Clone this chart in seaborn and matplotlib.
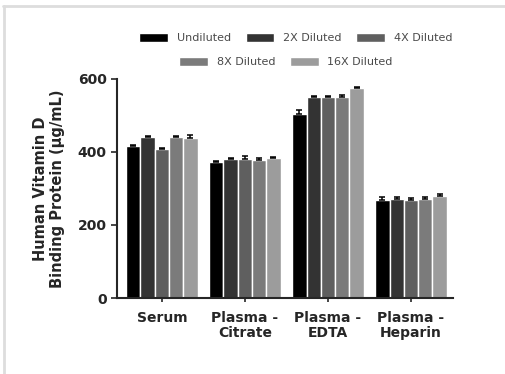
import numpy as np
import pandas as pd
import matplotlib
matplotlib.use("Agg")
import matplotlib.pyplot as plt
from matplotlib.lines import Line2D
import seaborn as sns

# Data
samples = ["Serum", "Plasma -\nCitrate", "Plasma -\nEDTA", "Plasma -\nHeparin"]
dilutions = ["Undiluted", "2X Diluted", "4X Diluted", "8X Diluted", "16X Diluted"]
undiluted = [416, 372, 504, 268]
diluted_2x = [440, 380, 550, 270]
diluted_4x = [409, 380, 550, 269]
diluted_8x = [440, 379, 551, 272]
diluted_16x = [438, 384, 575, 279]
err_undiluted = [4, 3, 12, 8]
err_2x = [3, 3, 3, 6]
err_4x = [3, 10, 3, 4]
err_8x = [3, 4, 5, 6]
err_16x = [8, 3, 4, 6]
colors = ["#000000", "#333333", "#5f5f5f", "#7b7b7b", "#9c9c9c"]

values = [undiluted, diluted_2x, diluted_4x, diluted_8x, diluted_16x]
errors = [err_undiluted, err_2x, err_4x, err_8x, err_16x]

rows = []
for d, vals in zip(dilutions, values):
    for s, v in zip(samples, vals):
        rows.append({"sample": s, "dilution": d, "value": v})
df = pd.DataFrame(rows)

sns.set_style("ticks")
plt.rcParams["font.family"] = ["DejaVu Sans"]

fig = plt.figure(figsize=(5.05, 3.74), dpi=100)
ax = fig.add_axes([0.2317, 0.2032, 0.897 - 0.2317, 0.7888 - 0.2032])

sns.barplot(data=df, x="sample", y="value", hue="dilution", order=samples,
            hue_order=dilutions, palette=colors, width=0.86, edgecolor="white",
            linewidth=1, errorbar=None, ax=ax)
bar_conts = list(ax.containers)

# error bars (upper only) on each bar
for cont, errs in zip(bar_conts, errors):
    xs = [p.get_x() + p.get_width() / 2 for p in cont.patches]
    hs = [p.get_height() for p in cont.patches]
    ax.errorbar(xs, hs, yerr=[np.zeros(len(errs)), errs], fmt="none",
                ecolor="black", elinewidth=1.1, capsize=2.3, capthick=1.1, zorder=5)

ax.set_ylim(0, 600)
ax.set_yticks([0, 200, 400, 600])
ax.set_xlim(-0.54, 3.505)
ax.set_xlabel("")
ax.set_ylabel("Human Vitamin D\nBinding Protein (\u03bcg/mL)", fontsize=10.5,
              fontweight="bold", labelpad=9, linespacing=1.2)
sns.despine(ax=ax)
for sp in ["left", "bottom"]:
    ax.spines[sp].set_linewidth(1.5)
ax.tick_params(axis="both", width=1.2, length=4, labelsize=10)
ax.tick_params(axis="x", length=3, pad=6)
for lbl in ax.get_xticklabels() + ax.get_yticklabels():
    lbl.set_fontweight("bold")
for lbl in ax.get_xticklabels():
    lbl.set_linespacing(1.1)

# legend in two centered rows
ax.get_legend().remove()
handles = [c.patches[0] for c in bar_conts]
leg_kw = dict(frameon=False, fontsize=8, handlelength=2.6, handleheight=0.8,
              columnspacing=1.3, handletextpad=0.8, labelcolor="#4a4a4a")
leg1 = fig.legend(handles[:3], dilutions[:3], ncol=3, loc="center",
                  bbox_to_anchor=(0.586, 0.898), **leg_kw)
leg2 = fig.legend(handles[3:], dilutions[3:], ncol=2, loc="center",
                  bbox_to_anchor=(0.566, 0.834), **leg_kw)

# light frame from the original screenshot
fig.add_artist(Line2D([3 / 505, 1], [1 - 6 / 374] * 2, transform=fig.transFigure,
                      color="#dddddd", lw=2))
fig.add_artist(Line2D([4 / 505] * 2, [0, 1 - 6 / 374], transform=fig.transFigure,
                      color="#dddddd", lw=2))

fig.savefig("out.png", dpi=100)
